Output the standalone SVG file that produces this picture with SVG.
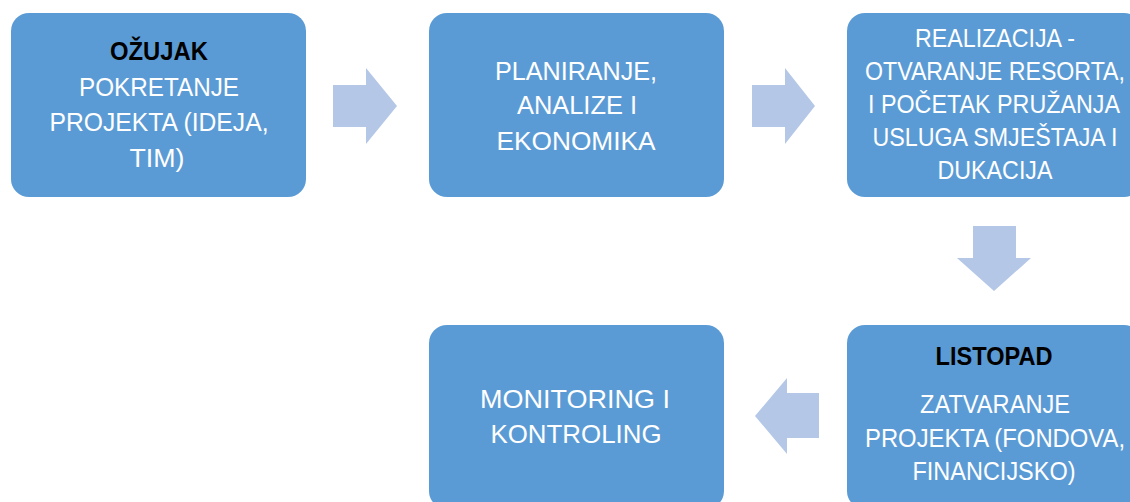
<svg xmlns="http://www.w3.org/2000/svg" width="1130" height="502" viewBox="0 0 1130 502">
<style>
.box{fill:#5B9BD5;}
.arr{fill:#B4C7E7;}
text{font-family:"Liberation Sans",Arial,sans-serif;font-size:25px;text-anchor:middle;fill:#FFFFFF;}
.lg{font-size:26.5px;}
.hd{font-weight:bold;fill:#000000;}
</style>
<rect width="1130" height="502" fill="#FFFFFF"/>
<g id="connectors">
<polygon class="arr" points="333,85 366,85 366,68 397,106 366,144 366,127 333,127"/>
<polygon class="arr" points="752,85 785,85 785,68 815,106 785,144 785,127 752,127"/>
<polygon class="arr" points="973,226 1016,226 1016,258 1031,258 994,291 957,258 973,258"/>
<polygon class="arr" points="819,393 787,393 787,378 755,416 787,454 787,438 819,438"/>
</g>
<g id="node1">
<rect class="box" x="11" y="13" width="295" height="184" rx="18"/>
<text class="hd" x="159" y="60" textLength="98" lengthAdjust="spacingAndGlyphs">OŽUJAK</text>
<text x="159" y="96" textLength="160" lengthAdjust="spacingAndGlyphs">POKRETANJE</text>
<text x="159" y="131" textLength="219" lengthAdjust="spacingAndGlyphs">PROJEKTA (IDEJA,</text>
<text x="157" y="167" textLength="55" lengthAdjust="spacingAndGlyphs">TIM)</text>
</g>
<g id="node2">
<rect class="box" x="429" y="13" width="295" height="184" rx="18"/>
<text class="lg" x="576" y="80" textLength="162" lengthAdjust="spacingAndGlyphs">PLANIRANJE,</text>
<text class="lg" x="577" y="114" textLength="120" lengthAdjust="spacingAndGlyphs">ANALIZE I</text>
<text class="lg" x="576" y="150" textLength="159" lengthAdjust="spacingAndGlyphs">EKONOMIKA</text>
</g>
<g id="node3">
<rect class="box" x="847" y="13" width="295" height="184" rx="18"/>
<text x="995" y="47" textLength="160" lengthAdjust="spacingAndGlyphs">REALIZACIJA -</text>
<text x="995" y="80" textLength="260" lengthAdjust="spacingAndGlyphs">OTVARANJE RESORTA,</text>
<text x="994" y="113" textLength="252" lengthAdjust="spacingAndGlyphs">I POČETAK PRUŽANJA</text>
<text x="995" y="146" textLength="245" lengthAdjust="spacingAndGlyphs">USLUGA SMJEŠTAJA I</text>
<text x="995" y="179" textLength="115" lengthAdjust="spacingAndGlyphs">DUKACIJA</text>
</g>
<g id="node4">
<rect class="box" x="847" y="325" width="295" height="184" rx="18"/>
<text class="hd" x="994" y="365" textLength="117" lengthAdjust="spacingAndGlyphs">LISTOPAD</text>
<text x="995" y="413" textLength="150" lengthAdjust="spacingAndGlyphs">ZATVARANJE</text>
<text x="995" y="447" textLength="260" lengthAdjust="spacingAndGlyphs">PROJEKTA (FONDOVA,</text>
<text x="994" y="480" textLength="163" lengthAdjust="spacingAndGlyphs">FINANCIJSKO)</text>
</g>
<g id="node5">
<rect class="box" x="429" y="325" width="295" height="184" rx="18"/>
<text class="lg" x="575" y="408" textLength="190" lengthAdjust="spacingAndGlyphs">MONITORING I</text>
<text class="lg" x="576" y="443" textLength="171" lengthAdjust="spacingAndGlyphs">KONTROLING</text>
</g>
</svg>
